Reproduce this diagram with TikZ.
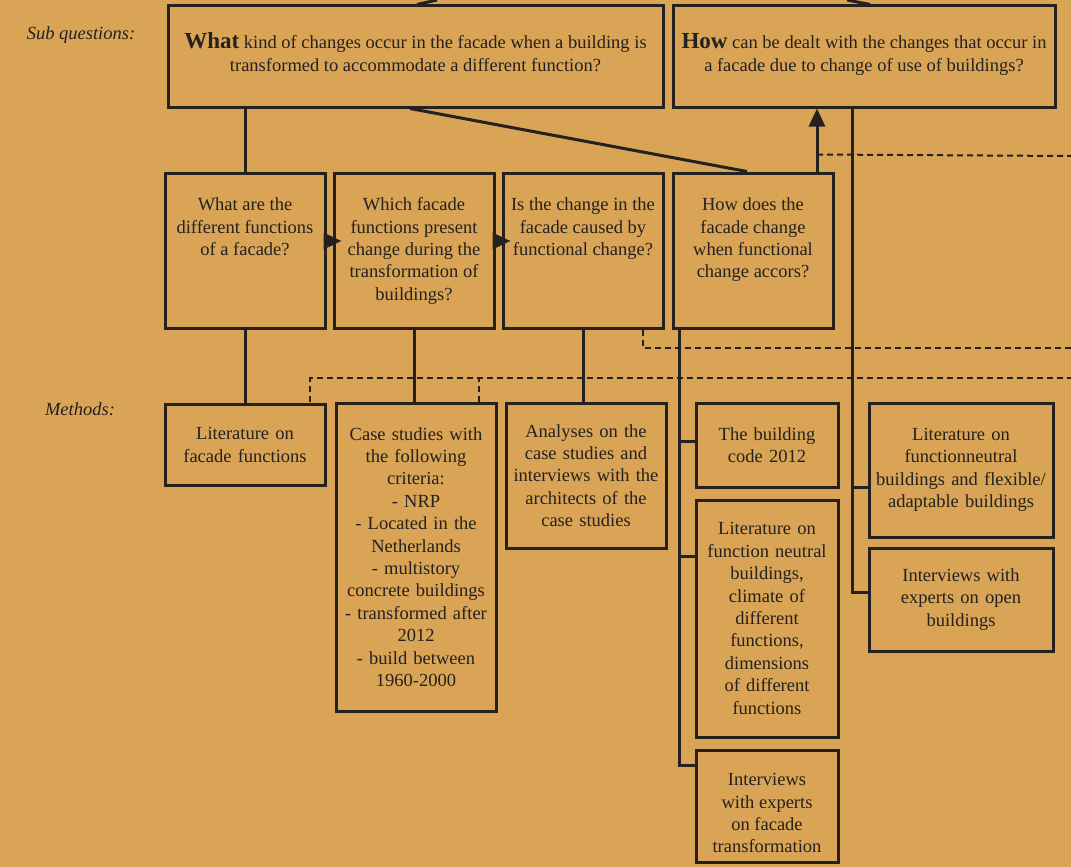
\documentclass[tikz,border=0pt]{standalone}
\usepackage{fontspec}
\setmainfont{Liberation Serif}
\usetikzlibrary{arrows.meta,calc}
\definecolor{bgcol}{RGB}{217,164,86}
\definecolor{ink}{RGB}{36,33,30}
\newcommand{\qtext}[4]{\parbox[c][#2][t]{#1}{\vspace*{#3}\centering\strut #4}}
\newcommand{\bigword}[1]{{\fontsize{23}{22.4}\selectfont\bfseries #1}}
\tikzset{
  qbox/.style={draw=ink, line width=3pt, inner sep=0pt},
  mbox/.style={draw=ink, line width=3pt, inner sep=2pt, align=center},
  link/.style={draw=ink, line width=3pt},
  dashlink/.style={draw=ink, line width=2pt, dash pattern=on 6pt off 4pt},
  upto/.style={-{Triangle[length=18pt,width=16pt]}}
}

\begin{document}
\begin{tikzpicture}[x=1pt, y=-1pt, text=ink, font=\fontsize{18.5}{22.4}\selectfont]
\fill[bgcol] (0,0) rectangle (1071,867);
\useasboundingbox (0,0) rectangle (1071,867);
%Row labels
	\node (subq) at (81,35) {\itshape Sub questions:};
	\node (meth) at (80,409) {\itshape Methods:};
%Sub questions
	\node[qbox] (what) at (415.5,56.5) {\qtext{495pt}{101pt}{27pt}{\bigword{What} kind of changes occur in the facade when a building is\\ transformed to accommodate a different function?}};
	\node[qbox] (how) at (864,56.5) {\qtext{382pt}{101pt}{27pt}{\bigword{How} can be dealt with the changes that occur in\\ a facade due to change of use of buildings?}};
%Second level questions
	\node[qbox] (funcs) at (245,250.5) {\qtext{160pt}{155pt}{22pt}{What are the\\ different functions\\ of a facade?}};
	\node[qbox] (present) at (414,250.5) {\qtext{160pt}{155pt}{22pt}{Which facade\\ functions present\\ change during the\\ transformation of\\ buildings?}};
	\node[qbox] (cause) at (583,250.5) {\qtext{160pt}{155pt}{22pt}{Is the change in the\\ facade caused by\\ functional change?}};
	\node[qbox] (change) at (753,250.5) {\qtext{160pt}{155pt}{22pt}{How does the\\ facade change\\ when functional\\ change accors?}};
%Methods
	\node[mbox, minimum width=160pt, minimum height=81pt, text width=150pt] (lit) at (245,445) {Literature on\\ facade functions};
	\node[mbox, minimum width=160pt, minimum height=308pt, text width=150pt] (cases) at (416,557) {Case studies with\\ the following\\ criteria:\\ - NRP\\ - Located in the\\ Netherlands\\ - multistory\\ concrete buildings\\ - transformed after\\ 2012\\ - build between\\ 1960-2000};
	\node[mbox, minimum width=160pt, minimum height=145pt, text width=150pt] (analyses) at (586,475.5) {Analyses on the\\ case studies and\\ interviews with the\\ architects of the\\ case studies};
	\node[mbox, minimum width=142pt, minimum height=84pt, text width=134pt] (code) at (767,445) {The building\\ code 2012};
	\node[mbox, minimum width=142pt, minimum height=237pt, text width=134pt] (neutral) at (767,618.5) {Literature on\\ function neutral\\ buildings,\\ climate of\\ different\\ functions,\\ dimensions\\ of different\\ functions};
	\node[qbox] (experts) at (767,806) {\qtext{142pt}{112pt}{20pt}{Interviews\\ with experts\\ on facade\\ transformation}};
	\node[mbox, minimum width=184pt, minimum height=134pt, text width=176pt] (flex) at (961,470) {Literature on\\ functionneutral\\ buildings and flexible/\\ adaptable buildings};
	\node[mbox, minimum width=184pt, minimum height=103pt, text width=176pt] (open) at (961,599.5) {Interviews with\\ experts on open\\ buildings};
%Free ends
	\coordinate (mainL) at (437,0);
	\coordinate (mainR) at (847,0);
	\coordinate (upfoot) at ($(change.north)+(64,0)$);
	\coordinate (edgeA) at (1071,156);
	\coordinate (edgeB) at (1071,348);
	\coordinate (edgeC) at (1071,378);
%Links to the main question
	\draw[link] ($(what.north)+(1.5,0)$) -- (mainL);
	\draw[link] ($(how.north)+(6,0)$) -- (mainR);
%Links between the questions
	\draw[link] (funcs.north) -- (funcs.north |- what.south);
	\draw[link] ($(what.south)+(-5.5,0)$) -- ($(change.north)+(-6,0)$);
	\draw[link, upto] (upfoot) -- (upfoot |- how.south);
	\draw[link, upto] ($(funcs.east)+(0,-9.5)$) -- ($(present.west)+(9,-9.5)$);
	\draw[link, upto] ($(present.east)+(0,-9.5)$) -- ($(cause.west)+(9,-9.5)$);
%Links to the methods
	\draw[link] (funcs.south) -- (funcs.south |- lit.north);
	\draw[link] (present.south) -- (present.south |- cases.north);
	\draw[link] (cause.south) -- (cause.south |- analyses.north);
	\draw[link] ($(change.south)+(-74,0)$) |- ($(experts.west)+(0,-41)$);
	\draw[link] ($(code.west)+(0,-4)$) -- ++(-17,0);
	\draw[link] ($(neutral.west)+(0,-62.5)$) -- ++(-17,0);
	\draw[link] ($(how.south)+(-12,0)$) |- ($(open.west)+(0,-7.5)$);
	\draw[link] ($(flex.west)+(0,17)$) -- ++(-17,0);
%Dashed links
	\draw[dashlink] ($(upfoot)+(0,-17)$) -- (edgeA);
	\draw[dashlink] ($(cause.south)+(60,0)$) |- (edgeB);
	\draw[dashlink] ($(lit.north)+(65,-1.5)$) |- (edgeC);
	\draw[dashlink] ($(cases.north)+(63,0)$) -- ++(0,-25);
\end{tikzpicture}
\end{document}
